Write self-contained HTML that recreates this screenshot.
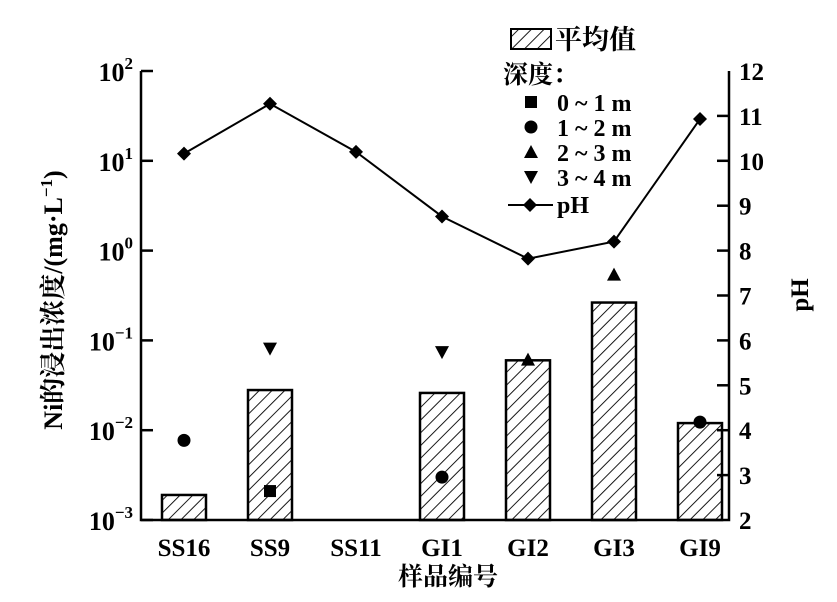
<!DOCTYPE html>
<html><head><meta charset="utf-8"><style>
body{margin:0;background:#fff}
svg text{font-family:"Liberation Serif","Noto Serif CJK SC",serif;fill:#000;font-weight:bold}
</style></head><body>
<svg id="chart" width="837" height="597" viewBox="0 0 837 597" xmlns="http://www.w3.org/2000/svg">
<defs><pattern id="hatch" patternUnits="userSpaceOnUse" width="9" height="9" patternTransform="rotate(45)"><rect width="9" height="9" fill="#fff"/><line x1="0" y1="0" x2="0" y2="9" stroke="#000" stroke-width="1.8"/></pattern></defs>
<g id="plot"></g>
</svg>
<script>
const categories=["SS16","SS9","SS11","GI1","GI2","GI3","GI9"];
const meanValues=[0.0019,0.028,null,0.026,0.060,0.264,0.012];
const phValues=[10.16,11.27,10.2,8.76,7.82,8.2,10.93];
const depth01=[null,0.0021,null,null,null,null,null];
const depth12=[0.0077,null,null,0.0030,null,null,0.0123];
const depth23=[null,null,null,null,0.061,0.54,null];
const depth34=[null,0.081,null,0.074,null,null,null];
const leftExp=[2,1,0,-1,-2,-3];
const phTicks=[2,3,4,5,6,7,8,9,10,11,12];

const NS="http://www.w3.org/2000/svg";
const g=document.getElementById('plot');
const L=141,R=729,T=71,B=520;
const yL=v=>T+(2-Math.log10(v))*(B-T)/5;
const yR=v=>B-(v-2)*(B-T)/10;
const xC=i=>184+i*86;
function mk(tag,attrs,parent){const e=document.createElementNS(NS,tag);for(const k in attrs)e.setAttribute(k,attrs[k]);(parent||g).appendChild(e);return e;}

meanValues.forEach((v,i)=>{if(v==null)return;
 const e=mk('rect',{x:xC(i)-22,y:yL(v),width:44,height:B-yL(v),fill:'url(#hatch)',stroke:'#000','stroke-width':2.5});
 
 });
const ax=mk('path',{d:`M${L},${T} V${B} H${R} V${T}`,fill:'none',stroke:'#000','stroke-width':2.5});


leftExp.forEach(e=>{const y=yL(Math.pow(10,e));
 mk('line',{x1:L,x2:L+12,y1:y,y2:y,stroke:'#000','stroke-width':2.5});
 const t=mk('text',{x:L-8,y:y+10,'text-anchor':'end','font-size':26});
 
 
 t.innerHTML='10<tspan dy="-12" font-size="17">'+(e<0?'\u2212'+(-e):e)+'</tspan>';});
phTicks.forEach(p=>{const y=yR(p);
 if(p>2&&p<12)mk('line',{x1:R-12,x2:R,y1:y,y2:y,stroke:'#000','stroke-width':2.5});
 const t=mk('text',{x:R+10,y:y+9,'font-size':25});
 
 
 t.textContent=p;});
categories.forEach((c,i)=>{const t=mk('text',{x:xC(i),y:556,'text-anchor':'middle','font-size':25});
 
 
 t.textContent=c;});
let t=mk('text',{x:448,y:585,'text-anchor':'middle','font-size':25});


t.textContent='样品编号';
t=mk('text',{x:0,y:0,'text-anchor':'middle','font-size':26,transform:'translate(62,300) rotate(-90)'});


t.innerHTML='Ni的浸出浓度/(mg·L<tspan dy="-10" font-size="17">\u22121</tspan><tspan dy="10">)</tspan>';
t=mk('text',{x:0,y:0,'text-anchor':'middle','font-size':25,transform:'translate(808,295) rotate(-90)'});


t.textContent='pH';
const pts=phValues.map((v,i)=>xC(i)+','+yR(v)).join(' ');
const pl=mk('polyline',{points:pts,fill:'none',stroke:'#000','stroke-width':2});


function marker(type,x,y,name){let e;
 if(type=='sq')e=mk('rect',{x:x-6,y:y-6,width:12,height:12});
 else if(type=='ci')e=mk('circle',{cx:x,cy:y,r:6.5});
 else if(type=='up')e=mk('polygon',{points:`${x-7},${y+6} ${x+7},${y+6} ${x},${y-7}`});
 else if(type=='dn')e=mk('polygon',{points:`${x-7},${y-6} ${x+7},${y-6} ${x},${y+7}`});
 else e=mk('polygon',{points:`${x},${y-7} ${x+7},${y} ${x},${y+7} ${x-7},${y}`});
 
 }
phValues.forEach((v,i)=>marker('di',xC(i),yR(v),'ph-point'));
depth01.forEach((v,i)=>{if(v!=null)marker('sq',xC(i),yL(v),'depth-0-1-point');});
depth12.forEach((v,i)=>{if(v!=null)marker('ci',xC(i),yL(v),'depth-1-2-point');});
depth23.forEach((v,i)=>{if(v!=null)marker('up',xC(i),yL(v),'depth-2-3-point');});
depth34.forEach((v,i)=>{if(v!=null)marker('dn',xC(i),yL(v),'depth-3-4-point');});
const lg=mk('g',{});


mk('rect',{x:511,y:29,width:40,height:20,fill:'url(#hatch)',stroke:'#000','stroke-width':2},lg);
t=mk('text',{x:555,y:49,'font-size':27},lg);t.textContent='平均值';
t=mk('text',{x:503,y:83,'font-size':25},lg);t.textContent='深度：';
const items=[['sq','0 ~ 1 m'],['ci','1 ~ 2 m'],['up','2 ~ 3 m'],['dn','3 ~ 4 m']];
items.forEach((it,k)=>{const y=103+k*25;marker(it[0],531,y-1,'legend-marker');
 const tt=mk('text',{x:557,y:y+8,'font-size':24},lg);tt.textContent=it[1];});
mk('line',{x1:508,x2:553,y1:205,y2:205,stroke:'#000','stroke-width':2},lg);
marker('di',530,205,'legend-marker');
t=mk('text',{x:557,y:213,'font-size':24},lg);t.textContent='pH';
</script>
</body></html>
